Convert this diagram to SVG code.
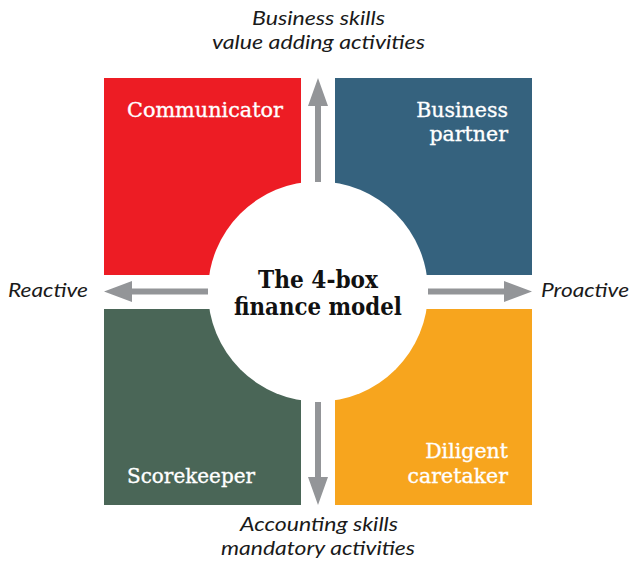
<svg xmlns="http://www.w3.org/2000/svg" width="630" height="562" viewBox="0 0 630 562">
<style>
.lbl{font-family:"DejaVu Serif","Liberation Serif",serif;font-size:20.5px;fill:#ffffff;stroke:#ffffff;stroke-width:0.35}
.ttl{font-family:"DejaVu Serif","Liberation Serif",serif;font-size:24px;font-weight:bold;fill:#111111;text-anchor:middle}
.ax{font-family:Lato,"Open Sans","Liberation Sans",sans-serif;font-size:19.5px;font-style:italic;fill:#1a1a1a}
.arr{fill:#939598}
</style>
<rect width="630" height="562" fill="#ffffff"/>
<g id="communicator">
<rect x="104" y="78" width="197" height="197" fill="#ED1C24"/>
<text class="lbl" x="127" y="117" textLength="156" lengthAdjust="spacingAndGlyphs">Communicator</text>
</g>
<g id="business-partner">
<rect x="335" y="78" width="197" height="197" fill="#35627E"/>
<text class="lbl" x="508" y="117" text-anchor="end">Business</text>
<text class="lbl" x="508" y="141" text-anchor="end">partner</text>
</g>
<g id="scorekeeper">
<rect x="104" y="309" width="197" height="196" fill="#4A6657"/>
<text class="lbl" x="127" y="483" textLength="128" lengthAdjust="spacingAndGlyphs">Scorekeeper</text>
</g>
<g id="diligent-caretaker">
<rect x="335" y="309" width="197" height="196" fill="#F7A51E"/>
<text class="lbl" x="508" y="458" text-anchor="end">Diligent</text>
<text class="lbl" x="508" y="483" text-anchor="end">caretaker</text>
</g>
<g id="center">
<circle cx="318" cy="291.5" r="110" fill="#ffffff"/>
<text class="ttl" x="318" y="288" textLength="120" lengthAdjust="spacingAndGlyphs">The 4-box</text>
<text class="ttl" x="318" y="315" textLength="168" lengthAdjust="spacingAndGlyphs">finance model</text>
</g>
<g id="connectors">
<polygon class="arr" points="315,182 321,182 321,106 328,106 318,78 308,106 315,106"/>
<polygon class="arr" points="315,402 321,402 321,477 328,477 318,505 308,477 315,477"/>
<polygon class="arr" points="208,288.5 208,294.5 132,294.5 132,302 104,291.5 132,281 132,288.5"/>
<polygon class="arr" points="428,288.5 428,294.5 504,294.5 504,302 532,291.5 504,281 504,288.5"/>
</g>
<g id="axis-labels">
<text class="ax" x="252" y="25" textLength="133" lengthAdjust="spacingAndGlyphs">Business skills</text>
<text class="ax" x="212" y="49" textLength="213" lengthAdjust="spacingAndGlyphs">value adding activities</text>
<text class="ax" x="240" y="531" textLength="158" lengthAdjust="spacingAndGlyphs">Accounting skills</text>
<text class="ax" x="221" y="555" textLength="194" lengthAdjust="spacingAndGlyphs">mandatory activities</text>
<text class="ax" x="8" y="297" textLength="80" lengthAdjust="spacingAndGlyphs">Reactive</text>
<text class="ax" x="541" y="297" textLength="88" lengthAdjust="spacingAndGlyphs">Proactive</text>
</g>
</svg>
